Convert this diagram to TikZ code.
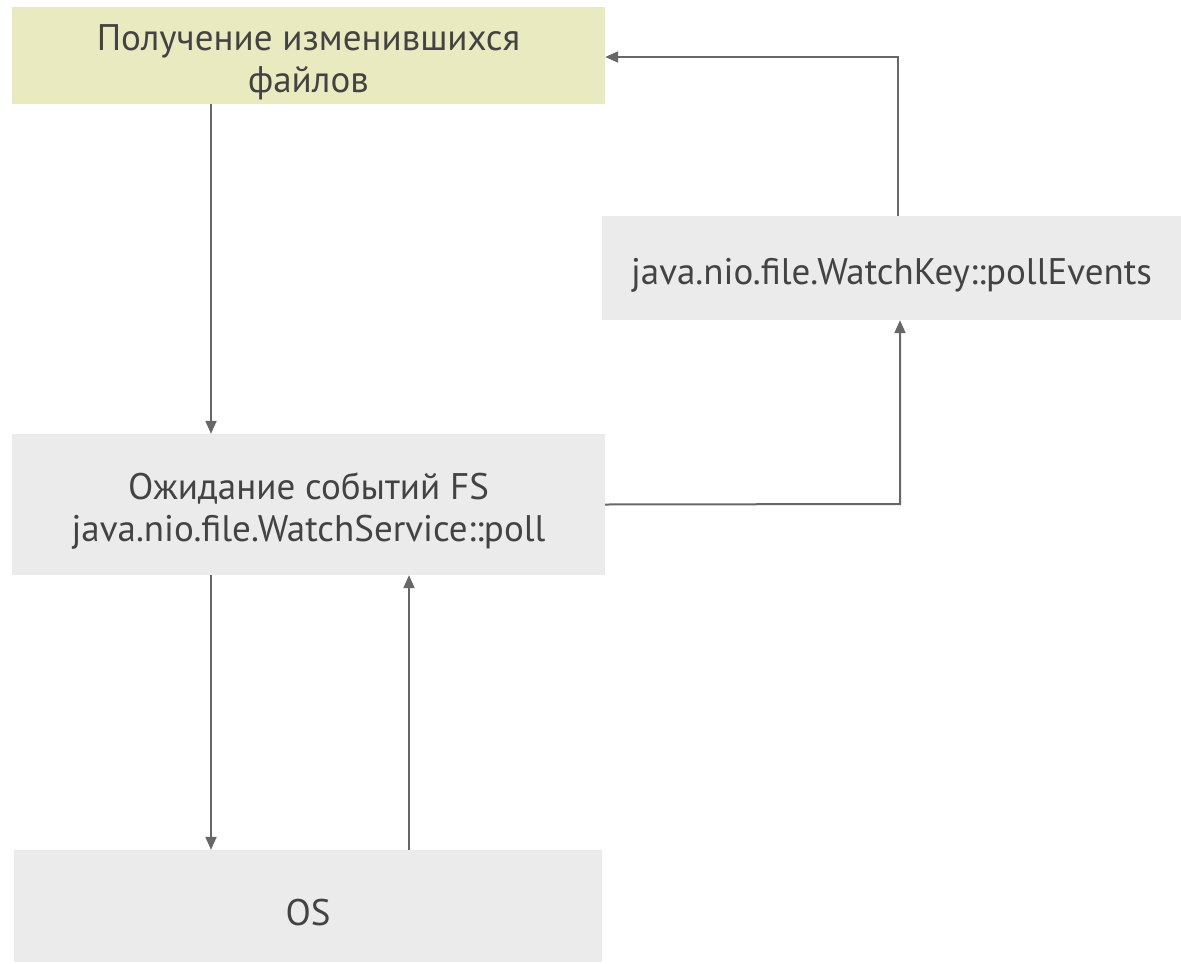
\documentclass[tikz,border=0pt]{standalone}
\usepackage{fontspec}
\setmainfont{PT Sans}
\usetikzlibrary{arrows.meta}
\definecolor{boxgray}{HTML}{EBEBEB}
\definecolor{boxyellow}{HTML}{EAEAC1}
\definecolor{txt}{HTML}{434343}
\definecolor{linegray}{HTML}{676767}
\newcommand{\dn}{\rule{0pt}{40pt}}
\tikzset{
  box/.style={draw=none, inner sep=0pt, align=center, text=txt,
    font=\fontsize{37}{42}\selectfont},
  arr/.style={draw=linegray, line width=2pt,
    -{Triangle[length=13pt,width=11pt]}},
  ln/.style={draw=linegray, line width=2pt}
}
\begin{document}
\begin{tikzpicture}[x=1pt,y=-1pt]
\useasboundingbox (0,0) rectangle (1181,964);
\node[box, fill=boxyellow, minimum width=593pt, minimum height=97pt] (A) at (308.5,55.5) {\dn Получение изменившихся\\файлов};
\node[box, fill=boxgray, minimum width=579pt, minimum height=104pt] (B) at (891.5,268) {\dn java.nio.file.WatchKey::pollEvents};
\node[box, fill=boxgray, minimum width=593pt, minimum height=141pt] (C) at (308.5,504.5) {\dn Ожидание событий FS\\java.nio.file.WatchService::poll};
\node[box, fill=boxgray, minimum width=588pt, minimum height=112pt] (D) at (308,906) {\dn OS};
\coordinate (c1) at (900,504);
\coordinate (c2) at (898,57);
\draw[arr] (A.south -| 211,0) -- (C.north -| 211,0);
\draw[arr] (C.east) -- (c1) -- (B.south -| c1);
\draw[arr] (B.north -| c2) -- (c2) -- (A.east |- c2);
\draw[arr] (C.south -| 211,0) -- (D.north -| 211,0);
\draw[arr] (D.north -| 409,0) -- (C.south -| 409,0);
\end{tikzpicture}
\end{document}
